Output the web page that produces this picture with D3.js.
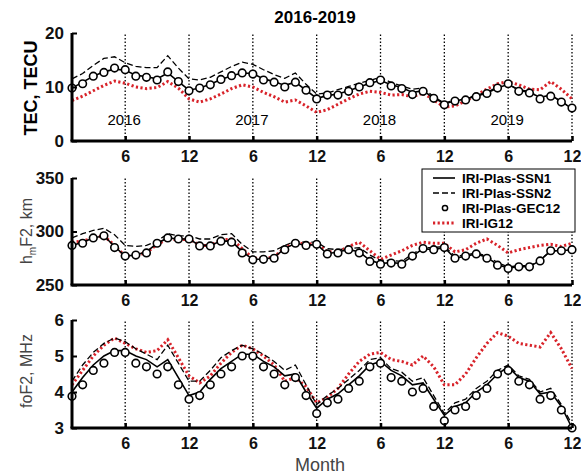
<!DOCTYPE html>
<html>
<head>
<meta charset="utf-8">
<script src="https://cdn.jsdelivr.net/npm/d3@7"></script>
<style>
  body { margin: 0; background: #fff; }
  svg { font-family: Arial, "Liberation Sans", sans-serif; }
</style>
</head>
<body>
<div id="wrapper"></div>
<script>
// 1. Data (monthly values, Jan 2016 - Dec 2019)
const months = d3.range(1, 49)
const years = ["2016", "2017", "2018", "2019"]
const gridMonths = [6, 12, 18, 24, 30, 36, 42, 48]
const gridLabels = ["6", "12", "6", "12", "6", "12", "6", "12"]

const tecSSN1 = [9.8,10.9,12.0,12.8,13.3,13.1,12.2,11.9,11.5,12.6,11.0,9.4,
  9.8,10.5,11.4,12.1,12.6,12.5,11.5,11.0,10.3,10.9,9.4,7.9,
  8.4,8.7,9.3,10.0,10.7,11.2,10.4,9.9,9.0,9.3,8.0,6.9,
  7.4,7.8,8.3,8.9,9.8,10.5,9.4,9.0,8.1,8.5,7.3,6.0]
const tecSSN2 = [11.5,12.5,14.0,15.3,15.6,14.5,13.8,13.6,13.6,15.8,13.5,11.5,
  11.3,11.8,12.8,13.8,14.6,14.2,13.2,12.3,11.6,12.6,10.5,8.7,
  8.9,9.5,10.1,10.7,11.2,11.8,10.8,10.2,9.6,9.8,8.2,7.0,
  7.6,7.9,8.5,9.0,10.0,10.5,9.5,9.2,8.0,8.5,7.3,6.1]
const tecGEC12 = [9.8,10.6,12.0,12.7,13.5,13.2,12.0,11.8,11.3,12.8,11.0,9.3,
  9.8,10.4,11.4,12.1,12.6,12.4,11.3,10.9,10.0,10.9,9.4,7.8,
  8.5,8.5,9.2,10.0,10.8,11.3,10.2,9.7,8.6,9.2,7.9,6.7,
  7.4,7.6,8.2,8.8,9.8,10.6,9.2,8.9,7.8,8.3,7.2,6.1]
const tecIG12 = [7.5,8.3,9.3,10.3,11.1,10.7,10.0,9.7,9.9,11.0,9.8,7.8,
  7.2,7.8,8.7,9.7,10.4,10.0,9.0,8.2,7.2,7.6,6.5,5.3,
  5.8,6.8,7.8,8.7,9.2,9.0,8.5,8.6,8.2,8.9,7.6,6.3,
  6.5,7.4,8.5,9.6,10.6,11.0,10.4,9.6,9.5,11.0,9.6,7.8]

const hmSSN1 = [287,290,294,296,286,277,278,281,289,294,293,293,
  287,287,291,291,281,274,274,276,284,289,287,288,
  279,281,283,281,273,270,271,270,277,284,283,285,
  275,277,279,276,269,266,267,267,273,282,282,283]
const hmSSN2 = [294,298,301,303,297,287,286,287,291,298,296,296,
  293,293,297,298,288,281,281,282,287,291,290,290,
  284,283,284,285,278,273,273,272,279,285,285,286,
  277,278,280,277,271,267,268,268,273,282,282,284]
const hmGEC12 = [287,289,294,296,285,277,278,280,289,294,293,293,
  286.5,286.5,291,290,280,273.5,274,275,283,289,287,288,
  279,280,283,280,272,269.5,270.5,269.5,277,284,283,285,
  275,277,279,275,268.5,265.5,267,267,272.5,282,282,283]
const hmIG12 = [290,291,294,296,287,277,278,280,288,293,292,293,
  287,287,292,293,284,275,275,276,285,290,288,289,
  281,281,286,290,282,274,278,282,287,290,289,289,
  281,283,289,293,287,280,283,285,287,288,286,289]

const foSSN1 = [4.0,4.4,4.75,5.0,5.15,5.15,5.0,4.9,4.7,4.9,4.4,3.9,
  4.0,4.35,4.65,4.85,5.05,5.05,4.85,4.7,4.45,4.5,4.0,3.55,
  3.8,3.95,4.2,4.45,4.75,4.85,4.6,4.45,4.2,4.25,3.8,3.35,
  3.6,3.7,4.0,4.2,4.5,4.7,4.4,4.3,3.95,4.0,3.6,3.0]
const foSSN2 = [4.3,4.75,5.1,5.35,5.5,5.4,5.2,5.05,4.9,5.3,4.8,4.3,
  4.3,4.6,4.95,5.15,5.3,5.2,5.05,4.85,4.6,4.75,4.2,3.65,
  3.9,4.1,4.35,4.6,4.9,4.95,4.65,4.55,4.3,4.4,3.9,3.4,
  3.7,3.8,4.1,4.3,4.6,4.75,4.45,4.35,4.0,4.1,3.65,3.1]
const foGEC12 = [3.88,4.2,4.6,4.8,5.1,5.1,4.8,4.7,4.5,4.7,4.2,3.8,
  3.9,4.2,4.5,4.7,5.0,5.0,4.7,4.5,4.2,4.4,3.9,3.4,
  3.7,3.8,4.1,4.3,4.7,4.8,4.4,4.3,4.0,4.1,3.6,3.2,
  3.5,3.6,3.9,4.1,4.5,4.6,4.3,4.2,3.8,3.9,3.5,3.0]
const foIG12 = [4.2,4.6,5.0,5.3,5.5,5.35,5.2,5.1,5.15,5.45,4.95,4.45,
  4.25,4.45,4.8,5.1,5.3,5.2,5.0,4.75,4.3,4.4,4.15,3.7,
  3.85,4.1,4.5,4.85,5.05,5.1,4.9,4.85,4.75,5.0,4.7,4.2,
  4.2,4.5,4.95,5.35,5.65,5.55,5.35,5.3,5.25,5.65,5.2,4.65]

const legendNames = ["IRI-Plas-SSN1", "IRI-Plas-SSN2", "IRI-Plas-GEC12", "IRI-IG12"]

// 2. Dimensions
const width = 581
const height = 475
const red = "#d8232a"

const panels = [
  { domain: [0, 20], range: [141, 33], ticks: [0, 10, 20],
    series: [tecSSN1, tecSSN2, tecGEC12, tecIG12] },
  { domain: [250, 350], range: [285, 178], ticks: [250, 300, 350],
    series: [hmSSN1, hmSSN2, hmGEC12, hmIG12] },
  { domain: [3, 6], range: [428, 320], ticks: [3, 4, 5, 6],
    series: [foSSN1, foSSN2, foGEC12, foIG12] },
]

// 3. Canvas
const svg = d3.select("#wrapper")
  .append("svg")
    .attr("width", width)
    .attr("height", height)

const xScale = d3.scaleLinear()
  .domain([1, 48])
  .range([72, 572])

const styles = [
  { stroke: "#000", width: 1.6, dash: null },
  { stroke: "#000", width: 1.3, dash: "6,3" },
  null,
  { stroke: red, width: 3, dash: "2.2,2.4" },
]

panels.forEach((p, pi) => {
  const yScale = d3.scaleLinear().domain(p.domain).range(p.range)
  const g = svg.append("g")

  // dotted month grid
  g.selectAll(".grid")
    .data(gridMonths)
    .join("line")
      .attr("x1", d => xScale(d))
      .attr("x2", d => xScale(d))
      .attr("y1", p.range[0])
      .attr("y2", p.range[1])
      .attr("stroke", "#000")
      .attr("stroke-width", 1.3)
      .attr("stroke-dasharray", "1.5,2")

  if (pi === 0) {
    g.selectAll(".year")
      .data(years)
      .join("text")
        .attr("x", (d, i) => xScale(6 + i * 12) - 1)
        .attr("y", 125)
        .attr("text-anchor", "middle")
        .style("font-size", "15px")
        .text(d => d)
  }

  const line = d3.line()
    .x((d, i) => xScale(months[i]))
    .y(d => yScale(d))

  // draw IG12 first, then dashed, solid, circles
  const order = [3, 1, 0]
  order.forEach(si => {
    const s = styles[si]
    g.append("path")
      .datum(p.series[si])
      .attr("d", line)
      .attr("fill", "none")
      .attr("stroke", s.stroke)
      .attr("stroke-width", s.width)
      .attr("stroke-dasharray", s.dash)
  })

  g.selectAll(".dot")
    .data(p.series[2])
    .join("circle")
      .attr("cx", (d, i) => xScale(months[i]))
      .attr("cy", d => yScale(d))
      .attr("r", 3.8)
      .attr("fill", "#fff")
      .attr("stroke", "#000")
      .attr("stroke-width", 1.6)

  // axes
  const xAxis = d3.axisBottom(xScale)
    .tickValues(gridMonths)
    .tickFormat((d, i) => gridLabels[i])
    .tickSize(-5)
    .tickPadding(10)
  const xg = g.append("g")
    .attr("transform", `translate(0,${p.range[0]})`)
    .call(xAxis)
  xg.select(".domain").attr("stroke-width", 3).attr("d", `M${xScale(1) - 1.5},0H${xScale(48)}`)
  xg.selectAll(".tick line").attr("stroke-width", 2.5)
  xg.selectAll(".tick text")
    .attr("fill", "#111")
    .style("font-size", "16px")
    .style("font-weight", "bold")
    .style("font-family", "Arial, 'Liberation Sans', sans-serif")

  const yAxis = d3.axisLeft(yScale)
    .tickValues(p.ticks)
    .tickFormat(d3.format("d"))
    .tickSize(-5)
    .tickPadding(8)
  const yg = g.append("g")
    .attr("transform", `translate(${xScale(1)},0)`)
    .call(yAxis)
  yg.select(".domain").attr("stroke-width", 3).attr("d", `M0,${p.range[0]}V${p.range[1]}`)
  yg.selectAll(".tick line").attr("stroke-width", 2)
  yg.selectAll(".tick text")
    .attr("fill", "#111")
    .style("font-size", "17px")
    .style("font-weight", "bold")
    .style("font-family", "Arial, 'Liberation Sans', sans-serif")
})

// 4. Peripherals
svg.append("text")
  .attr("x", 315)
  .attr("y", 23)
  .attr("text-anchor", "middle")
  .style("font-size", "17px")
  .style("font-weight", "bold")
  .text("2016-2019")

svg.append("text")
  .attr("transform", "translate(37,88) rotate(-90)")
  .attr("text-anchor", "middle")
  .style("font-size", "18px")
  .style("font-weight", "bold")
  .text("TEC, TECU")

const hmLabel = svg.append("text")
  .attr("transform", "translate(32,231) rotate(-90)")
  .attr("text-anchor", "middle")
  .attr("fill", "#444")
  .style("font-size", "16px")
hmLabel.append("tspan").text("h")
hmLabel.append("tspan").attr("dy", 4).style("font-size", "10px").text("m")
hmLabel.append("tspan").attr("dy", -4).text("F2, km")

svg.append("text")
  .attr("transform", "translate(32,371) rotate(-90)")
  .attr("text-anchor", "middle")
  .attr("fill", "#444")
  .style("font-size", "16px")
  .text("foF2, MHz")

svg.append("text")
  .attr("x", 320)
  .attr("y", 471)
  .attr("text-anchor", "middle")
  .attr("fill", "#444")
  .style("font-size", "18px")
  .text("Month")

// legend
const legend = svg.append("g").attr("transform", "translate(422,169)")
legend.append("rect")
  .attr("width", 153)
  .attr("height", 63)
  .attr("fill", "#fff")
  .attr("stroke", "#000")
  .attr("stroke-width", 1)

const rows = legend.selectAll(".row")
  .data(legendNames)
  .join("g")
    .attr("transform", (d, i) => `translate(0,${9 + i * 15})`)

rows.each(function(d, i) {
  const row = d3.select(this)
  if (i === 2) {
    row.append("circle")
      .attr("cx", 23).attr("cy", 0).attr("r", 2.6)
      .attr("fill", "#fff").attr("stroke", "#000").attr("stroke-width", 1.5)
  } else {
    const s = styles[i]
    row.append("line")
      .attr("x1", 11).attr("x2", 33)
      .attr("stroke", s.stroke)
      .attr("stroke-width", s.width)
      .attr("stroke-dasharray", s.dash)
  }
  row.append("text")
    .attr("x", 40)
    .attr("dy", "0.35em")
    .style("font-size", "13.5px")
    .style("font-weight", "bold")
    .text(d)
})
</script>
</body>
</html>
